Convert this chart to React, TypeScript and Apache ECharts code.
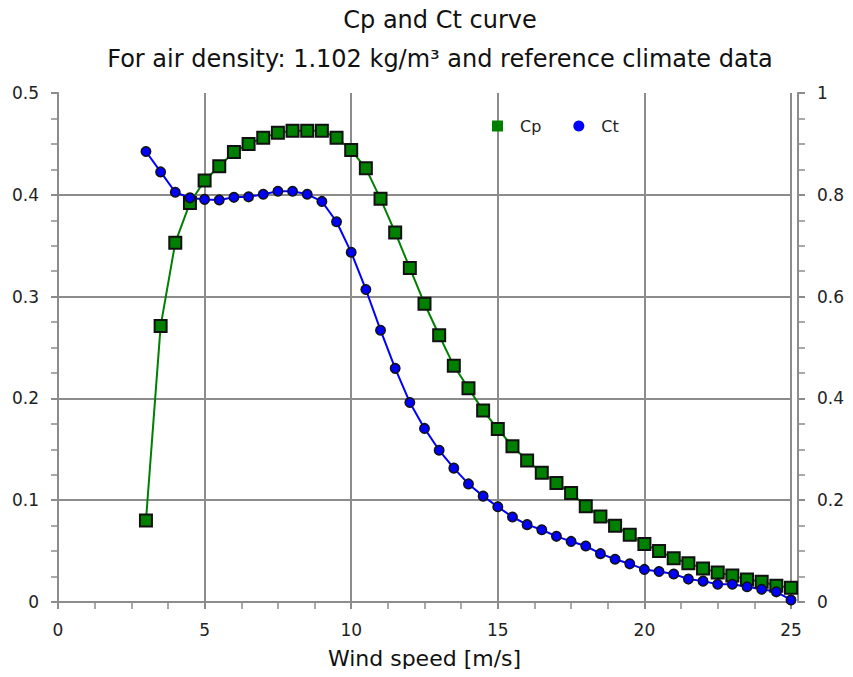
import React, { useEffect, useRef } from "react";
import * as echarts from "echarts";

const windSpeeds = [
  3, 3.5, 4, 4.5, 5, 5.5, 6, 6.5, 7, 7.5, 8, 8.5, 9, 9.5, 10, 10.5, 11, 11.5, 12, 12.5,
  13, 13.5, 14, 14.5, 15, 15.5, 16, 16.5, 17, 17.5, 18, 18.5, 19, 19.5, 20, 20.5, 21,
  21.5, 22, 22.5, 23, 23.5, 24, 24.5, 25,
];

const cpValues = [
  0.08, 0.271, 0.353, 0.392, 0.414, 0.428, 0.442, 0.45, 0.456, 0.461, 0.463, 0.463, 0.463,
  0.456, 0.444, 0.426, 0.396, 0.363, 0.328, 0.293, 0.262, 0.232, 0.21, 0.188, 0.17, 0.153,
  0.139, 0.127, 0.117, 0.107, 0.094, 0.084, 0.075, 0.066, 0.057, 0.05, 0.043, 0.038, 0.033,
  0.029, 0.026, 0.022, 0.02, 0.016, 0.014,
];

const ctValues = [
  0.885, 0.845, 0.805, 0.794, 0.791, 0.79, 0.795, 0.796, 0.801, 0.807, 0.807, 0.801, 0.787,
  0.747, 0.687, 0.614, 0.534, 0.459, 0.392, 0.341, 0.298, 0.263, 0.232, 0.208, 0.187, 0.167,
  0.152, 0.142, 0.129, 0.119, 0.11, 0.095, 0.084, 0.075, 0.064, 0.06, 0.055, 0.045, 0.041,
  0.035, 0.035, 0.03, 0.025, 0.02, 0.004,
];

const titleText = "Cp and Ct curve";
const subtitleText = "For air density: 1.102 kg/m³ and reference climate data";
const xAxisName = "Wind speed [m/s]";

const FONT = "DejaVu Sans";
const GRID_COLOR = "#8c8c8c";
const LABEL_COLOR = "#222";

export default function App() {
  const ref = useRef<HTMLDivElement>(null);

  useEffect(() => {
    if (!ref.current) return;
    const chart = echarts.init(ref.current, null, { renderer: "svg" });
    const cpData = windSpeeds.map((w, i) => [w, cpValues[i]]);
    const ctData = windSpeeds.map((w, i) => [w, ctValues[i]]);

    const axisCommon = {
      axisLine: { show: true, lineStyle: { color: GRID_COLOR, width: 2 } },
      axisTick: { show: true, length: 7, lineStyle: { color: GRID_COLOR, width: 2 } },
      minorTick: { show: true, splitNumber: 4, length: 7, lineStyle: { color: GRID_COLOR, width: 1.5 } },
      axisLabel: { color: LABEL_COLOR, fontFamily: FONT, fontSize: 17, margin: 19 },
    };

    chart.setOption({
      animation: false,
      backgroundColor: "#ffffff",
      graphic: [
        {
          type: "text",
          x: 440,
          y: 20,
          style: {
            text: titleText,
            fontFamily: FONT,
            fontSize: 24,
            fill: "#111",
            textAlign: "center",
            textVerticalAlign: "middle",
          },
        },
        {
          type: "text",
          x: 440,
          y: 59,
          style: {
            text: subtitleText,
            fontFamily: FONT,
            fontSize: 24,
            fill: "#111",
            textAlign: "center",
            textVerticalAlign: "middle",
          },
        },
      ],
      legend: {
        left: 487,
        top: 113,
        itemGap: 32,
        itemWidth: 11,
        itemHeight: 11,
        textStyle: { fontFamily: FONT, fontSize: 16, color: LABEL_COLOR, padding: [0, 0, 0, 12] },
        data: [
          { name: "Cp", icon: "rect", itemStyle: { color: "#008000", borderWidth: 0 } },
          { name: "Ct", icon: "circle", itemStyle: { color: "#0000ff", borderWidth: 0 } },
        ],
      },
      grid: { left: 58, right: 62, top: 93, bottom: 75, containLabel: false },
      xAxis: {
        type: "value",
        min: 0,
        max: 25,
        interval: 5,
        name: xAxisName,
        nameLocation: "middle",
        nameGap: 45,
        nameTextStyle: { fontFamily: FONT, fontSize: 22, color: "#111" },
        ...axisCommon,
        splitLine: { show: true, lineStyle: { color: GRID_COLOR, width: 2 } },
      },
      yAxis: [
        {
          type: "value",
          min: 0,
          max: 0.5,
          interval: 0.1,
          position: "left",
          ...axisCommon,
          splitLine: { show: true, showMaxLine: false, lineStyle: { color: GRID_COLOR, width: 2 } },
        },
        {
          type: "value",
          min: 0,
          max: 1,
          interval: 0.2,
          position: "right",
          offset: 7,
          ...axisCommon,
          splitLine: { show: false },
        },
      ],
      series: [
        {
          name: "Cp",
          type: "line",
          yAxisIndex: 0,
          data: cpData,
          symbol: "rect",
          symbolSize: 12,
          lineStyle: { color: "#008000", width: 2 },
          itemStyle: { color: "#008000", borderColor: "#111", borderWidth: 2 },
        },
        {
          name: "Ct",
          type: "line",
          yAxisIndex: 1,
          data: ctData,
          symbol: "circle",
          symbolSize: 9.5,
          lineStyle: { color: "#0000ff", width: 2 },
          itemStyle: { color: "#0000ff", borderColor: "#111", borderWidth: 1.5 },
        },
      ],
    });
    return () => chart.dispose();
  }, []);

  return <div ref={ref} style={{ width: 853, height: 677, margin: -8 }} />;
}
